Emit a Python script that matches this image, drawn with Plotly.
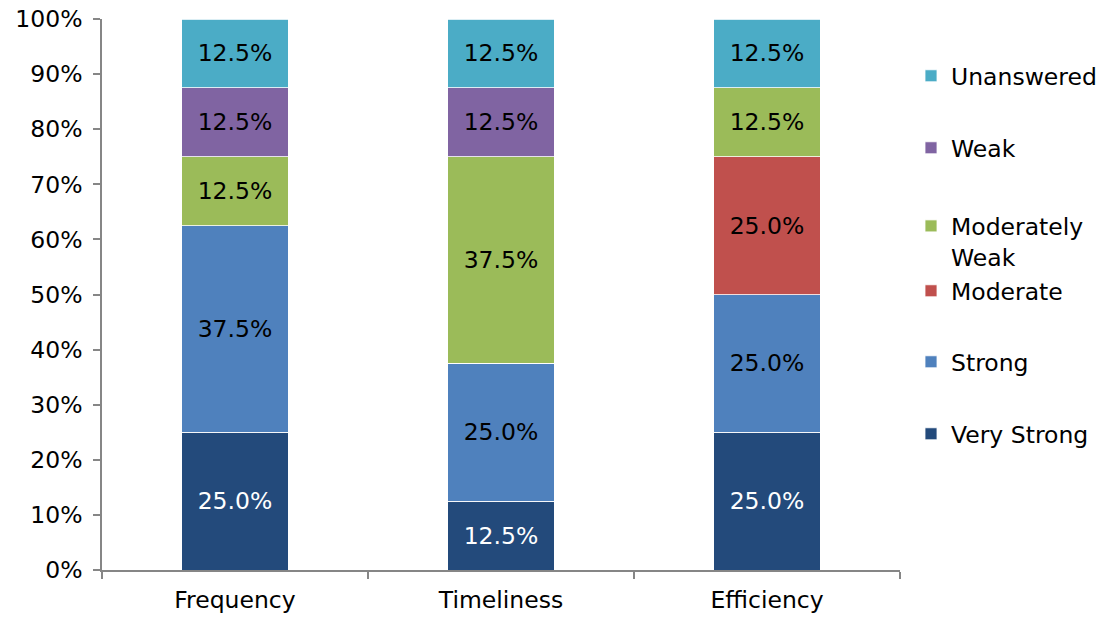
import plotly.graph_objects as go

categories = ["Frequency", "Timeliness", "Efficiency"]
series_names = ["Very Strong", "Strong", "Moderate", "Moderately Weak", "Weak", "Unanswered"]
very_strong = [25.0, 12.5, 25.0]
strong = [37.5, 25.0, 25.0]
moderate = [0.0, 0.0, 25.0]
moderately_weak = [12.5, 37.5, 12.5]
weak = [12.5, 12.5, 0.0]
unanswered = [12.5, 12.5, 12.5]
y_ticks = list(range(0, 101, 10))
y_tick_labels = [f"{v}%" for v in y_ticks]

values = [very_strong, strong, moderate, moderately_weak, weak, unanswered]
colors = ["#234A7B", "#4F81BD", "#C0504D", "#9BBB59", "#8064A2", "#4BACC6"]
legend_labels = ["Very Strong", "Strong", "Moderate", "Moderately<br>Weak", "Weak", "Unanswered"]
text_colors = ["white", "black", "black", "black", "black", "black"]

FONT = "Verdana, DejaVu Sans, sans-serif"
FS = 23.5
# plot area in px
L, R, T, B = 102, 900, 19, 570
W, H = 1103, 618
legend_marker_y = [434, 362, 291, 219, 148, 76]

fig = go.Figure()
layout_legends = {}
for i, (name, vals, col, tc, lab) in enumerate(zip(series_names, values, colors, text_colors, legend_labels)):
    lname = "legend" if i == 0 else f"legend{i+1}"
    texts = [f"{v:.1f}%" if v else "" for v in vals]
    fig.add_trace(go.Bar(
        x=categories, y=vals, name=lab,
        marker=dict(color=col, line=dict(color="white", width=0.8)),
        text=texts, textposition="inside", insidetextanchor="middle",
        textfont=dict(color=tc, size=FS, family=FONT),
        width=0.4, legend=lname, hoverinfo="skip",
    ))
    ypx = legend_marker_y[i]
    two_line = "<br>" in lab
    layout_legends[lname] = dict(
        x=(911 - L) / (R - L),
        xanchor="left",
        y=(B - ypx) / (B - T) + (0.027 if two_line else 0),
        yanchor="top" if two_line else "middle",
        valign="top",
        font=dict(family=FONT, size=FS, color="black"),
        bgcolor="rgba(0,0,0,0)",
        itemclick=False,
    )

fig.update_layout(
    barmode="stack",
    width=W, height=H,
    margin=dict(l=L, r=W - R, t=T, b=H - B, autoexpand=False),
    plot_bgcolor="white", paper_bgcolor="white",
    font=dict(family=FONT, size=FS, color="black"),
    showlegend=True,
    bargap=0.6,
    **layout_legends,
)
fig.update_yaxes(
    range=[0, 100], tickvals=y_ticks, ticktext=y_tick_labels,
    showgrid=False, showline=True, linecolor="#868686", linewidth=1.5,
    ticks="outside", ticklen=7, tickcolor="#868686", tickwidth=1.5,
    ticklabelstandoff=6,
    tickfont=dict(size=FS, family=FONT, color="black"), zeroline=False,
    automargin=False,
)
fig.update_xaxes(
    showgrid=False, showline=True, linecolor="#868686", linewidth=1.5,
    ticks="outside", ticklen=7, tickcolor="#868686", tickwidth=1.5,
    tickson="boundaries", automargin=False, ticklabelstandoff=8,
    tickfont=dict(size=FS, family=FONT, color="black"),
)
fig.write_html("out.html")
